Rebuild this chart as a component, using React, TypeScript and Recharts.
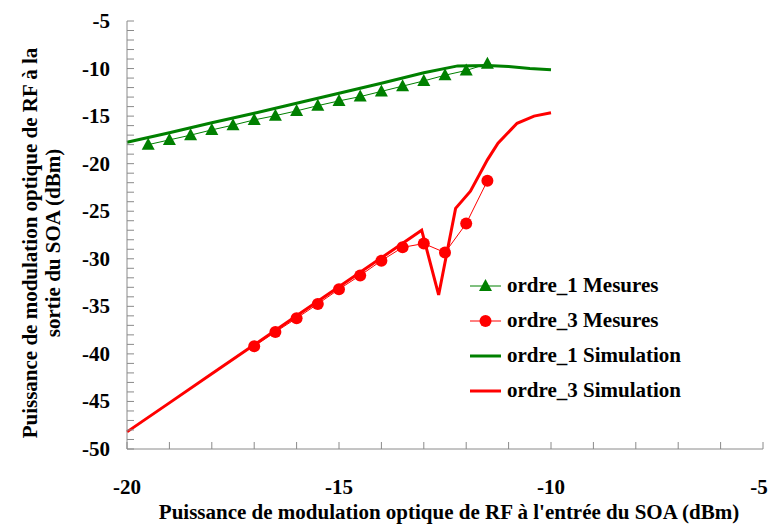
import { LineChart, Line, XAxis, YAxis, Legend, Label } from "recharts";

const FONT = '"Liberation Serif", "Times New Roman", serif';
const GREEN = "#008000";
const RED = "#ff0000";
const AXIS = "#8a8a8a";

// measured points (dBm in -> dBm out)
const mes1X = [-19.5, -19, -18.5, -18, -17.5, -17, -16.5, -16, -15.5, -15, -14.5, -14, -13.5, -13, -12.5, -12, -11.5];
const mes1Y = [-18.0, -17.5, -17.0, -16.45, -15.95, -15.4, -14.95, -14.45, -13.9, -13.4, -12.95, -12.4, -11.85, -11.3, -10.7, -10.2, -9.5];

const mes3X = [-17, -16.5, -16, -15.5, -15, -14.5, -14, -13.5, -13, -12.5, -12, -11.5];
const mes3Y = [-39.2, -37.7, -36.25, -34.75, -33.2, -31.75, -30.2, -28.8, -28.4, -29.35, -26.3, -21.8];

// simulation curves
const sim1X = [-20, -19, -18, -17, -16, -15, -14, -13, -12.2, -11.5, -11, -10.5, -10];
const sim1Y = [-17.75, -16.75, -15.7, -14.7, -13.65, -12.6, -11.55, -10.45, -9.72, -9.68, -9.78, -10.0, -10.12];

const sim3X = [-20, -19, -18, -17, -16, -15, -14, -13.05, -12.65, -12.25, -11.9, -11.5, -11.25, -10.8, -10.4, -10];
const sim3Y = [-48.2, -45.15, -42.1, -39.05, -36.0, -32.95, -29.9, -27.0, -33.8, -24.7, -22.9, -19.6, -17.85, -15.75, -15.0, -14.65];

const xMajor = [-20, -15, -10, -5];
const yMajor = [-50, -45, -40, -35, -30, -25, -20, -15, -10, -5];

const zip = (xs: number[], ys: number[]) => xs.map((x, i) => ({ x, y: ys[i] }));
const mes1 = zip(mes1X, mes1Y);
const mes3 = zip(mes3X, mes3Y);
const sim1 = zip(sim1X, sim1Y);
const sim3 = zip(sim3X, sim3Y);

// minor ticks every 1 dB between the labelled ones
const xTicks = Array.from({ length: xMajor[xMajor.length - 1] - xMajor[0] + 1 }, (_, i) => xMajor[0] + i);
const yTicks = Array.from({ length: yMajor[yMajor.length - 1] - yMajor[0] + 1 }, (_, i) => yMajor[0] + i);

const XTick = (props: any) => {
  const { x, y, payload } = props;
  const v = payload.value;
  if (v % 5 !== 0) return null;
  // last label sits at the window edge
  const dx = v === xMajor[xMajor.length - 1] ? -4 : 0;
  return (
    <text x={x + dx} y={y} dy={15} textAnchor="middle" fontFamily={FONT} fontWeight="bold" fontSize={21} fill="#000">
      {v}
    </text>
  );
};

const YTick = (props: any) => {
  const { x, y, payload } = props;
  const v = payload.value;
  if (v % 5 !== 0) return null;
  return (
    <text x={x} y={y} dy={7} textAnchor="end" fontFamily={FONT} fontWeight="bold" fontSize={21} fill="#000">
      {v}
    </text>
  );
};

const Triangle = (props: any) => {
  const { cx, cy, index } = props;
  if (cx == null || cy == null) return null;
  return <path key={`t-${index}`} d={`M${cx},${cy - 7} L${cx + 6.5},${cy + 5} L${cx - 6.5},${cy + 5} Z`} fill={GREEN} />;
};

const legendItems = [
  { name: "ordre_1 Mesures", color: GREEN, marker: "triangle", width: 1 },
  { name: "ordre_3 Mesures", color: RED, marker: "circle", width: 1 },
  { name: "ordre_1 Simulation", color: GREEN, marker: "none", width: 3 },
  { name: "ordre_3 Simulation", color: RED, marker: "none", width: 3 },
];

const LegendBox = () => (
  <div style={{ fontFamily: FONT, fontWeight: "bold", fontSize: 21 }}>
    {legendItems.map((it) => (
      <div key={it.name} style={{ display: "flex", alignItems: "center", height: 35 }}>
        <svg width={31} height={20} style={{ marginRight: 6 }}>
          <line x1={0} y1={10} x2={31} y2={10} stroke={it.color} strokeWidth={it.width} />
          {it.marker === "triangle" && <path d="M15.5,3 L22,15 L9,15 Z" fill={it.color} />}
          {it.marker === "circle" && <circle cx={15.5} cy={10} r={6} fill={it.color} />}
        </svg>
        <span style={{ color: "#000", whiteSpace: "nowrap" }}>{it.name}</span>
      </div>
    ))}
  </div>
);

const YTitle = () => (
  <g fontFamily={FONT} fontWeight="bold" fontSize={21} fill="#000">
    <text x={30} y={243} transform="rotate(-90, 30, 243)" textAnchor="middle" dominantBaseline="central">
      Puissance de modulation optique de RF à la
    </text>
    <text x={53} y={243} transform="rotate(-90, 53, 243)" textAnchor="middle" dominantBaseline="central">
      sortie du SOA (dBm)
    </text>
  </g>
);

const XTitle = () => (
  <text x={449} y={512} textAnchor="middle" dominantBaseline="central" fontFamily={FONT} fontWeight="bold" fontSize={21} fill="#000">
    Puissance de modulation optique de RF à l'entrée du SOA (dBm)
  </text>
);

export default function App() {
  return (
    <div style={{ position: "absolute", left: 0, top: 0, background: "#fff" }}>
      <LineChart width={770} height={525} margin={{ top: 21, right: 7, left: 0, bottom: 0 }}>
        <XAxis
          dataKey="x"
          type="number"
          domain={[-20, -5]}
          ticks={xTicks}
          interval={0}
          tickSize={-7}
          tickMargin={37}
          height={76}
          stroke={AXIS}
          tick={<XTick />}
        >
          <Label content={XTitle} />
        </XAxis>
        <YAxis
          type="number"
          domain={[-50, -5]}
          ticks={yTicks}
          interval={0}
          tickSize={-7}
          tickMargin={24}
          width={127}
          stroke={AXIS}
          tick={<YTick />}
        >
          <Label content={YTitle} />
        </YAxis>
        <Legend
          layout="horizontal"
          verticalAlign="middle"
          align="center"
          content={LegendBox}
          wrapperStyle={{ left: 470, top: 268, width: 280 }}
        />
        <Line data={sim1} dataKey="y" stroke={GREEN} strokeWidth={3} dot={false} isAnimationActive={false} name="ordre_1 Simulation" />
        <Line data={sim3} dataKey="y" stroke={RED} strokeWidth={3} dot={false} isAnimationActive={false} name="ordre_3 Simulation" />
        <Line data={mes1} dataKey="y" stroke={GREEN} strokeWidth={1} dot={Triangle} isAnimationActive={false} name="ordre_1 Mesures" />
        <Line
          data={mes3}
          dataKey="y"
          stroke={RED}
          strokeWidth={1}
          dot={{ r: 6, fill: RED, stroke: "none" }}
          isAnimationActive={false}
          name="ordre_3 Mesures"
        />
      </LineChart>
    </div>
  );
}
